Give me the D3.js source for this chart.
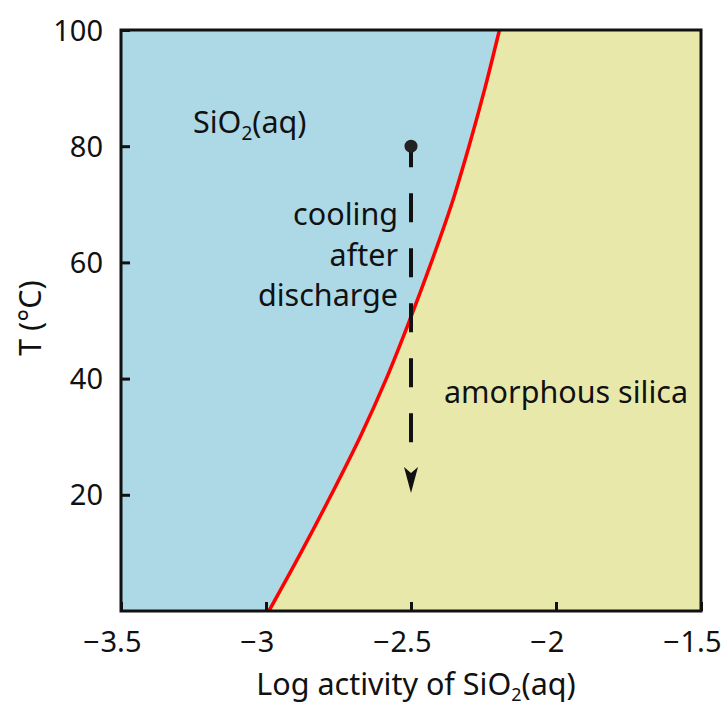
<!DOCTYPE html>
<html><head><meta charset="utf-8">
<script src="https://cdn.jsdelivr.net/npm/d3@7"></script>
<style>body{margin:0;background:#fff}svg{display:block}text{font-family:"Noto Sans",sans-serif;fill:#111}</style>
</head><body>
<script>
const temps = [0,10,20,30,40,50,60,70,80,90,100];
const logActivity = [-2.99,-2.88,-2.775,-2.675,-2.585,-2.505,-2.43,-2.36,-2.30,-2.245,-2.195];
const xTicks = [-3.5,-3,-2.5,-2,-1.5];
const yTicks = [20,40,60,80,100];
const pathX = -2.5, pathStartT = 80, pathEndT = 20.3;

const W=722,H=708, L=121,R=701,T=30,B=611;
const svg=d3.select("body").append("svg").attr("width",W).attr("height",H);
const x=d3.scaleLinear().domain([-3.5,-1.5]).range([L,R]);
const y=d3.scaleLinear().domain([0,100]).range([B,T]);
const pts=temps.map((t,i)=>({t,v:logActivity[i]}));

svg.append("rect").attr("x",L).attr("y",T).attr("width",R-L).attr("height",B-T).attr("fill","#e8e8ab");
const area=d3.area().curve(d3.curveMonotoneY).y(d=>y(d.t)).x0(x(-3.5)).x1(d=>x(d.v));
svg.append("path").datum(pts).attr("d",area).attr("fill","#add8e6");
const line=d3.line().curve(d3.curveMonotoneY).x(d=>x(d.v)).y(d=>y(d.t));
svg.append("path").datum(pts).attr("d",line).attr("fill","none").attr("stroke","#ff0000").attr("stroke-width",3.5);

// axes
const tfs=29, fs=30.5;
const xa=svg.append("g").attr("transform",`translate(0,${B})`).call(d3.axisBottom(x).tickValues(xTicks).tickSize(-9).tickFormat(""));
const ya=svg.append("g").attr("transform",`translate(${L},0)`).call(d3.axisLeft(y).tickValues(yTicks).tickSize(-9).tickPadding(18));
[xa,ya].forEach(g=>{g.select(".domain").remove();g.selectAll("line").attr("stroke","#111").attr("stroke-width",3);g.selectAll("text").attr("font-size",tfs).attr("font-family","Noto Sans").attr("fill","#111");});
ya.selectAll("text").attr("dy","0.35em");
// x tick labels: digits centred on tick, minus sign hanging to the left
xTicks.forEach(v=>{
  const t=svg.append("text").attr("x",x(v)).attr("y",652).attr("text-anchor","middle").attr("font-size",tfs).text(d3.format("")(Math.abs(v)));
  if(v<0){const w=t.node().getComputedTextLength();
    svg.append("text").attr("x",x(v)-w/2-1).attr("y",652).attr("text-anchor","end").attr("font-size",tfs).text("\u2212");}
});
svg.append("rect").attr("x",L).attr("y",T).attr("width",R-L).attr("height",B-T).attr("fill","none").attr("stroke","#111").attr("stroke-width",3);

// titles
const xt=svg.append("text").attr("x",416).attr("y",695).attr("text-anchor","middle").attr("font-size",fs);
xt.append("tspan").text("Log activity of SiO");
xt.append("tspan").attr("font-size",18).attr("dy",6).text("2");
xt.append("tspan").attr("dy",-6).text("(aq)");
svg.append("text").attr("transform","translate(41,318) rotate(-90)").attr("text-anchor","middle").attr("font-size",fs).text("T (°C)");

// region labels
const sl=svg.append("text").attr("x",193).attr("y",133).attr("font-size",fs);
sl.append("tspan").text("SiO");
sl.append("tspan").attr("font-size",19).attr("dy",7).text("2");
sl.append("tspan").attr("dy",-7).text("(aq)");
svg.append("text").attr("x",566).attr("y",403).attr("text-anchor","middle").attr("font-size",fs).text("amorphous silica");
["cooling","after","discharge"].forEach((s,i)=>svg.append("text").attr("x",398).attr("y",225+i*40.5).attr("text-anchor","end").attr("font-size",fs).text(s));

// cooling path
svg.append("line").attr("x1",x(pathX)).attr("x2",x(pathX)).attr("y1",y(pathStartT)).attr("y2",y(pathEndT)-26)
  .attr("stroke","#111").attr("stroke-width",4).attr("stroke-dasharray","29,26").attr("stroke-dashoffset",8);
const ax=x(pathX), ay=y(pathEndT);
svg.append("path").attr("d",`M${ax},${ay}L${ax-7},${ay-26}L${ax},${ay-20}L${ax+7},${ay-26}Z`).attr("fill","#111");
svg.append("circle").attr("cx",x(pathX)).attr("cy",y(pathStartT)).attr("r",6.5).attr("fill","#222");
</script>
</body></html>
